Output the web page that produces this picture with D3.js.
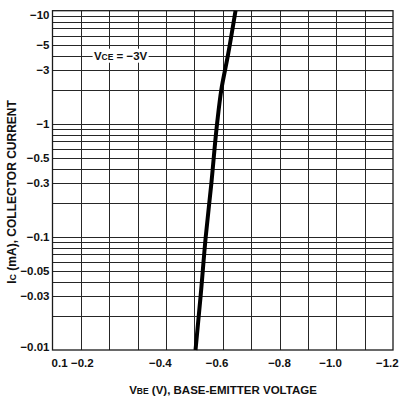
<!DOCTYPE html>
<html>
<head>
<meta charset="utf-8">
<script src="https://cdn.jsdelivr.net/npm/d3@7"></script>
<style>
  html, body { margin: 0; padding: 0; background: #fff; }
  svg { display: block; }
  text { font-family: "Liberation Sans", Arial, Helvetica, sans-serif; fill: #111; }
</style>
</head>
<body>
<svg id="chart" width="400" height="396"></svg>
<script>
// Collector current (mA, magnitude) versus base-emitter voltage (V)
const collectorCurrent = [0.01, 0.03, 0.1, 0.3, 1, 2, 4, 10];
const baseEmitterVoltage = [-0.504, -0.522, -0.540, -0.560, -0.580, -0.595, -0.618, -0.645];

// Grid lines
const voltageGrid = [-0.1, -0.2, -0.3, -0.4, -0.5, -0.6, -0.7, -0.8, -0.9, -1.0, -1.1];
const currentGrid = [0.02, 0.03, 0.04, 0.05, 0.06, 0.07, 0.08, 0.09, 0.1,
                     0.2, 0.3, 0.4, 0.5, 0.6, 0.7, 0.8, 0.9, 1,
                     2, 3, 4, 5, 6, 7, 8, 9];

// Axis labels
const currentTicks = [10, 5, 3, 1, 0.5, 0.3, 0.1, 0.05, 0.03, 0.01];
const currentTickLabels = ["\u221210", "\u22125", "\u22123", "\u22121", "\u22120.5", "\u22120.3",
                           "\u22120.1", "\u22120.05", "\u22120.03", "\u22120.01"];
const voltageTickAt = [-0.025, -0.105, -0.38, -0.58, -0.8, -0.98, -1.18];
const voltageTickLabels = ["0.1", "\u22120.2", "\u22120.4", "\u22120.6", "\u22120.8", "\u22121.0", "\u22121.2"];

const conditionCurrent = 4; // VCE annotation sits on this grid line
const conditionVoltage = -0.24;

const svg = d3.select("#chart");
const plotLeft = 52.5, plotRight = 393, plotTop = 10.7, plotBottom = 350;

const x = d3.scaleLinear().domain([0, -1.2]).range([plotLeft, plotRight]);
const y = d3.scaleLog().domain([0.01, 10]).range([plotBottom, plotTop]);

const grid = svg.append("g").attr("stroke", "#262626").attr("shape-rendering", "crispEdges");

grid.selectAll("line.v").data(voltageGrid).join("line")
  .attr("class", "v")
  .attr("x1", d => Math.round(x(d)) + 0.5).attr("x2", d => Math.round(x(d)) + 0.5)
  .attr("y1", plotTop).attr("y2", plotBottom)
  .attr("stroke-width", 1);

grid.selectAll("line.h").data(currentGrid).join("line")
  .attr("class", "h")
  .attr("x1", plotLeft).attr("x2", plotRight)
  .attr("y1", d => Math.round(y(d)) + 0.5).attr("y2", d => Math.round(y(d)) + 0.5)
  .attr("stroke-width", 1.2);

// Frame
svg.append("rect")
  .attr("x", plotLeft).attr("y", plotTop)
  .attr("width", plotRight - plotLeft).attr("height", plotBottom - plotTop)
  .attr("fill", "none").attr("stroke", "#1a1a1a").attr("stroke-width", 1.3);

// Condition label with a white backing over the grid line
const cond = svg.append("g")
  .attr("transform", `translate(${x(conditionVoltage)},${y(conditionCurrent)})`);
cond.append("rect")
  .attr("x", -28).attr("y", -7).attr("width", 56).attr("height", 14)
  .attr("fill", "#fff");
const condText = cond.append("text")
  .attr("text-anchor", "middle").attr("dy", "0.36em")
  .attr("font-size", 11.5).attr("font-weight", 600);
condText.append("tspan").text("V");
condText.append("tspan").attr("font-size", 8.5).text("CE");
condText.append("tspan").text(" = \u22123V");

// Characteristic curve
const pts = collectorCurrent.map((c, i) => [baseEmitterVoltage[i], c]);
svg.append("path")
  .datum(pts)
  .attr("fill", "none")
  .attr("stroke", "#000")
  .attr("stroke-width", 4)
  .attr("stroke-linecap", "butt")
  .attr("d", d3.line().x(d => x(d[0])).y(d => y(d[1])).curve(d3.curveMonotoneY));

// Y tick labels
svg.append("g").selectAll("text").data(currentTicks).join("text")
  .attr("x", 49.5)
  .attr("y", d => Math.min(Math.max(y(d), 15), 346.5))
  .attr("dy", "0.36em")
  .attr("text-anchor", "end")
  .attr("font-size", 11.5).attr("font-weight", "bold")
  .text((d, i) => currentTickLabels[i]);

// X tick labels
svg.append("g").selectAll("text").data(voltageTickAt).join("text")
  .attr("x", d => x(d))
  .attr("y", 363)
  .attr("dy", "0.36em")
  .attr("text-anchor", "middle")
  .attr("font-size", 11.5).attr("font-weight", "bold")
  .text((d, i) => voltageTickLabels[i]);

// Axis titles
const xt = svg.append("text")
  .attr("x", 223).attr("y", 390).attr("dy", "0.36em")
  .attr("text-anchor", "middle")
  .attr("font-size", 11.5).attr("font-weight", "bold");
xt.append("tspan").text("V");
xt.append("tspan").attr("font-size", 8.5).text("BE");
xt.append("tspan").text(" (V), BASE-EMITTER VOLTAGE");

const yt = svg.append("text")
  .attr("transform", "translate(12,192) rotate(-90)")
  .attr("dy", "0.36em")
  .attr("text-anchor", "middle")
  .attr("font-size", 12).attr("font-weight", "bold");
yt.append("tspan").text("I");
yt.append("tspan").attr("font-size", 9).text("C");
yt.append("tspan").text(" (mA), COLLECTOR CURRENT");
</script>
</body>
</html>
